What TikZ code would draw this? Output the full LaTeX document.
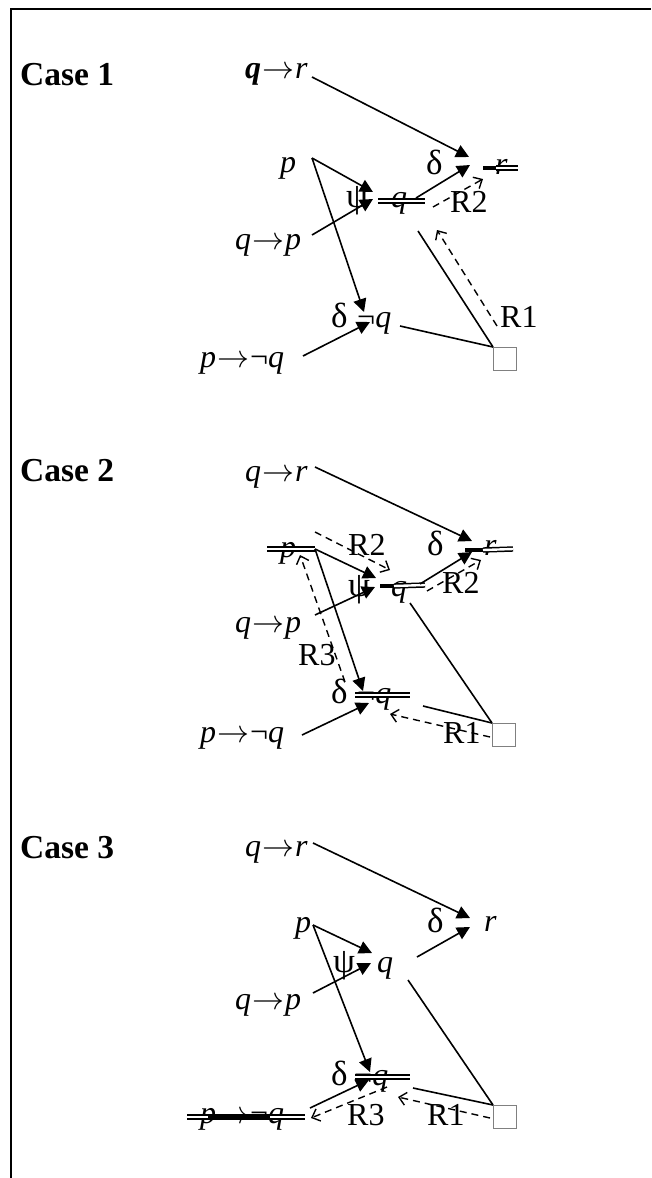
\RequirePackage{fix-cm}
\documentclass[tikz,border=0pt]{standalone}
\usepackage{fontspec}
\setmainfont{Liberation Serif}
\usetikzlibrary{arrows.meta}
\newcommand\myfs{\fontsize{32}{32}\selectfont}
\newcommand\grfs{\fontsize{35}{35}\selectfont}
\newcommand\casefs{\fontsize{33.5}{34}\selectfont}
\newcommand\ar{\kern1pt$\rightarrow$\kern1pt}
\begin{document}
\begin{tikzpicture}[x=1pt,y=-1pt,
  txt/.style={anchor=base west, inner sep=0pt, font=\myfs},
  gr/.style={anchor=base west, inner sep=0pt, font=\grfs},
  casetxt/.style={anchor=base west, inner sep=0pt, font=\casefs\bfseries},
  sol/.style={line width=1.6pt},
  arr/.style={line width=1.6pt, -{Triangle[length=13pt,width=13pt]}},
  darr/.style={line width=1.4pt, dash pattern=on 7pt off 5pt, -{Straight Barb[length=7pt,width=13pt,line width=1.4pt]}},
  strike/.style={draw, double, double distance=2.4pt, line width=1.5pt},
  thickbar/.style={line width=4pt},
  sq/.style={draw=gray, line width=1pt, minimum size=23pt, inner sep=0pt, anchor=north west},
  frame/.style={line width=2pt}
]
\useasboundingbox (0,0) rectangle (651,1178);
\draw[frame] (10.5,1178) -- (10.5,8.5) -- (651,8.5);

% ================= Case 1 =================
\node[casetxt] (c1) at (20,85) {Case 1};
\node[txt] (c1qr) at (245,78) {\textbf{\textit{q}}\ar\textit{r}};
\node[txt] (c1p) at (280,172) {\textit{p}};
\node[gr] (c1d) at (426,174) {δ};
\node[txt] (c1r) at (495,174) {\textit{r}};
\node[gr] (c1psi) at (346,207) {ψ};
\node[txt] (c1q) at (391,207) {\textit{q}};
\node[txt] (c1qp) at (235,249) {\textit{q}\ar\textit{p}};
\node[gr] (c1d2) at (331,327) {δ};
\node[txt] (c1nq) at (357,327) {¬\textit{q}};
\node[txt] (c1pnq) at (200,367) {\textit{p}\ar¬\textit{q}};
\node[sq] (c1box) at (493,347) {};
% strikes
\coordinate (c1s1a) at (378,201); \coordinate (c1s1b) at (425,201);
\draw[strike] (c1s1a) -- (c1s1b);
\coordinate (c1s2a) at (483,168); \coordinate (c1s2b) at (496,168); \coordinate (c1s2c) at (518,168);
\draw[thickbar] (c1s2a) -- (c1s2b);
\draw[strike] (c1s2b) -- (c1s2c);
% connectors
\coordinate (c1a0) at (312,77);  \coordinate (c1a1) at (469,157);
\coordinate (c1b0) at (416,198); \coordinate (c1b1) at (470,165);
\coordinate (c1v)  at (312,158);
\coordinate (c1c1) at (373,192);
\coordinate (c1d1) at (364,312);
\coordinate (c1e0) at (312,235); \coordinate (c1e1) at (373,199);
\coordinate (c1f0) at (303,356); \coordinate (c1f1) at (370,322);
\coordinate (c1g0) at (418,231);
\coordinate (c1h0) at (400,326);
\draw[arr] (c1a0) -- (c1a1);
\draw[arr] (c1b0) -- (c1b1);
\draw[arr] (c1v) -- (c1c1);
\draw[arr] (c1v) -- (c1d1);
\draw[arr] (c1e0) -- (c1e1);
\draw[arr] (c1f0) -- (c1f1);
\draw[sol] (c1g0) -- (c1box.north west);
\draw[sol] (c1h0) -- (c1box.north west);
\coordinate (c1r2a) at (433,207); \coordinate (c1r2b) at (483,179);
\draw[darr] (c1r2a) -- (c1r2b);
\node[txt] (c1R2) at (450,212) {R2};
\coordinate (c1r1a) at (497,326); \coordinate (c1r1b) at (437,230);
\draw[darr] (c1r1a) -- (c1r1b);
\node[txt] (c1R1) at (500,327) {R1};

% ================= Case 2 =================
\node[casetxt] (c2) at (20,481) {Case 2};
\node[txt] (c2qr) at (245,481) {\textit{q}\ar\textit{r}};
\node[txt] (c2p) at (280,557) {\textit{p}};
\node[gr] (c2d) at (427,555) {δ};
\node[txt] (c2r) at (484,555) {\textit{r}};
\node[gr] (c2psi) at (348,596) {ψ};
\node[txt] (c2q) at (391,596) {\textit{q}};
\node[txt] (c2qp) at (235,632) {\textit{q}\ar\textit{p}};
\node[gr] (c2d2) at (331,703) {δ};
\node[txt] (c2nq) at (357,703) {¬\textit{q}};
\node[txt] (c2pnq) at (200,742) {\textit{p}\ar¬\textit{q}};
\node[sq] (c2box) at (492,723) {};
% strikes
\coordinate (c2sp1) at (267,549); \coordinate (c2sp2) at (315,549);
\draw[strike] (c2sp1) -- (c2sp2);
\coordinate (c2sr0) at (465,550); \coordinate (c2sr1) at (483,550); \coordinate (c2sr2) at (513,549);
\draw[thickbar] (c2sr0) -- (c2sr1);
\draw[strike] (c2sr1) -- (c2sr2);
\coordinate (c2sq0) at (380,586); \coordinate (c2sq1) at (394,586); \coordinate (c2sq2) at (425,585);
\draw[thickbar] (c2sq0) -- (c2sq1);
\draw[strike] (c2sq1) -- (c2sq2);
\coordinate (c2sn1) at (355,695); \coordinate (c2sn2) at (410,695);
\draw[strike] (c2sn1) -- (c2sn2);
% connectors
\coordinate (c2a0) at (315,467); \coordinate (c2a1) at (472,541);
\coordinate (c2b0) at (420,584); \coordinate (c2b1) at (472,552);
\coordinate (c2v)  at (315,549);
\coordinate (c2c1) at (376,578);
\coordinate (c2d1) at (363,691);
\coordinate (c2e0) at (315,615); \coordinate (c2e1) at (375,587);
\coordinate (c2f0) at (302,735); \coordinate (c2f1) at (369,703);
\coordinate (c2g0) at (410,603);
\coordinate (c2h0) at (423,706);
\draw[arr] (c2a0) -- (c2a1);
\draw[arr] (c2b0) -- (c2b1);
\draw[arr] (c2v) -- (c2c1);
\draw[arr] (c2v) -- (c2d1);
\draw[arr] (c2e0) -- (c2e1);
\draw[arr] (c2f0) -- (c2f1);
\draw[sol] (c2g0) -- (c2box.north west);
\draw[sol] (c2h0) -- (c2box.north west);
\coordinate (c2u0) at (315,532); \coordinate (c2u1) at (390,570);
\draw[darr] (c2u0) -- (c2u1);
\node[txt] (c2R2a) at (348,555) {R2};
\coordinate (c2w0) at (427,591); \coordinate (c2w1) at (481,560);
\draw[darr] (c2w0) -- (c2w1);
\node[txt] (c2R2b) at (442,593) {R2};
\coordinate (c2x0) at (345,682); \coordinate (c2x1) at (300,555);
\draw[darr] (c2x0) -- (c2x1);
\node[txt] (c2R3) at (298,665) {R3};
\coordinate (c2y0) at (490,737); \coordinate (c2y1) at (390,714);
\draw[darr] (c2y0) -- (c2y1);
\node[txt] (c2R1) at (443,743) {R1};

% ================= Case 3 =================
\node[casetxt] (c3) at (20,858) {Case 3};
\node[txt] (c3qr) at (245,856) {\textit{q}\ar\textit{r}};
\node[txt] (c3p) at (295,932) {\textit{p}};
\node[gr] (c3d) at (427,932) {δ};
\node[txt] (c3r) at (484,931) {\textit{r}};
\node[gr] (c3psi) at (333,972) {ψ};
\node[txt] (c3q) at (377,972) {\textit{q}};
\node[txt] (c3qp) at (235,1009) {\textit{q}\ar\textit{p}};
\node[gr] (c3d2) at (331,1085) {δ};
\node[txt] (c3nq) at (354,1085) {¬\textit{q}};
\node[txt] (c3pnq) at (200,1123) {\textit{p}\ar¬\textit{q}};
\node[sq] (c3box) at (493,1105) {};
% strikes
\coordinate (c3sn1) at (355,1077); \coordinate (c3sn2) at (410,1077);
\draw[strike] (c3sn1) -- (c3sn2);
\coordinate (c3sp0) at (187,1117); \coordinate (c3sp1) at (305,1117);
\coordinate (c3tk0) at (208,1117); \coordinate (c3tk1) at (270,1117);
\draw[strike] (c3sp0) -- (c3sp1);
\draw[thickbar] (c3tk0) -- (c3tk1);
% connectors
\coordinate (c3a0) at (313,843); \coordinate (c3a1) at (470,918);
\coordinate (c3b0) at (417,957); \coordinate (c3b1) at (470,927);
\coordinate (c3v)  at (313,925);
\coordinate (c3c1) at (372,953);
\coordinate (c3d1) at (370,1072);
\coordinate (c3e0) at (313,993); \coordinate (c3e1) at (371,963);
\coordinate (c3f0) at (310,1108); \coordinate (c3f1) at (369,1080);
\coordinate (c3g0) at (408,980);
\coordinate (c3h0) at (413,1088);
\draw[arr] (c3a0) -- (c3a1);
\draw[arr] (c3b0) -- (c3b1);
\draw[arr] (c3v) -- (c3c1);
\draw[arr] (c3v) -- (c3d1);
\draw[arr] (c3e0) -- (c3e1);
\draw[arr] (c3f0) -- (c3f1);
\draw[sol] (c3g0) -- (c3box.north west);
\draw[sol] (c3h0) -- (c3box.north west);
\coordinate (c3x0) at (387,1087); \coordinate (c3x1) at (311,1118);
\draw[darr] (c3x0) -- (c3x1);
\node[txt] (c3R3) at (347,1125) {R3};
\coordinate (c3y0) at (490,1118); \coordinate (c3y1) at (398,1097);
\draw[darr] (c3y0) -- (c3y1);
\node[txt] (c3R1) at (427,1125) {R1};
\end{tikzpicture}
\end{document}
